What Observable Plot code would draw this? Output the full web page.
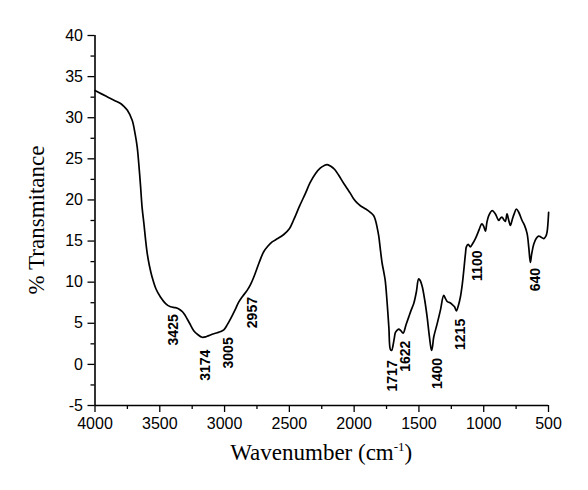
<!DOCTYPE html>
<html>
<head>
<meta charset="utf-8">
<script src="https://cdn.jsdelivr.net/npm/d3@7"></script>
<script src="https://cdn.jsdelivr.net/npm/@observablehq/plot@0.6"></script>
<style>
  html, body { margin: 0; padding: 0; background: #fff; }
</style>
</head>
<body>
<div id="chart"></div>
<script>
// Spectrum (wavenumber cm^-1, % transmittance)
const wavenumber = [4000,3950,3900,3850,3800,3778,3750,3713,3690,3674,3660,3649,3636,3623,3610,3597,3580,3559,3530,3495,3455,3417,3380,3353,3325,3302,3270,3238,3205,3173,3145,3122,3090,3057,3030,3006,2980,2955,2920,2890,2860,2826,2800,2775,2735,2698,2665,2633,2590,2543,2500,2466,2420,2376,2340,2299,2260,2230,2208,2180,2150,2119,2080,2050,2029,2003,1975,1952,1910,1875,1850,1835,1823,1810,1797,1784,1772,1760,1745,1732,1720,1710,1700,1690,1681,1665,1656,1640,1622,1600,1579,1560,1540,1520,1502,1490,1475,1455,1437,1420,1403,1395,1386,1360,1334,1309,1295,1278,1260,1244,1225,1211,1195,1180,1165,1154,1140,1134,1120,1103,1085,1064,1040,1020,1013,1000,987,975,961,935,910,895,884,870,858,845,833,820,808,794,780,765,748,730,704,685,665,652,640,630,614,595,576,560,537,520,511,505,499];
const transmittance = [33.3,32.9,32.5,32.1,31.7,31.4,30.9,29.7,28.0,26.4,24.0,21.8,19.0,17.2,15.2,13.5,12.0,10.6,9.2,8.2,7.4,7.0,6.9,6.75,6.4,5.9,5.0,4.1,3.6,3.3,3.35,3.5,3.7,3.85,4.0,4.2,4.8,5.5,6.6,7.6,8.3,9.0,9.7,10.6,12.3,13.7,14.4,14.9,15.3,15.8,16.5,17.6,19.3,20.8,22.1,23.2,23.9,24.2,24.3,24.1,23.7,23.0,22.0,21.3,20.8,20.1,19.6,19.3,18.9,18.5,18.1,17.5,16.7,15.6,13.9,12.3,11.3,10.2,7.4,4.5,1.8,1.7,2.3,3.2,3.9,4.2,4.3,4.1,3.8,4.8,5.75,6.6,7.4,8.8,10.4,10.2,9.5,7.8,5.8,3.5,1.7,2.2,3.3,4.9,6.6,8.4,8.0,7.6,7.5,7.3,7.0,6.5,7.2,8.2,9.8,11.4,13.6,14.3,14.6,14.3,14.7,15.3,16.2,17.0,17.1,16.8,16.2,17.3,18.1,18.7,18.3,17.8,17.5,17.8,17.9,17.6,17.4,18.3,17.6,16.9,17.6,18.3,18.9,18.5,17.5,16.9,15.9,14.2,12.4,13.4,14.6,15.3,15.6,15.5,15.3,15.6,16.1,17.0,18.5];

// Peak annotations: label text and where it sits (wavenumber, % T)
const peakLabels = ["3425","3174","3005","2957","1717","1622","1400","1215","1100","640"];
const peakLabelX = [3392,3147,2970,2787,1707,1604,1360,1180,1051,601];
const peakLabelY = [4.2,-0.1,1.4,6.3,-1.4,1.0,-1.1,3.65,12.0,10.3];

// Axis ticks
const xTicks = [4000,3500,3000,2500,2000,1500,1000,500];
const xMinorTicks = [3750,3250,2750,2250,1750,1250,750];
const yTicks = [-5,0,5,10,15,20,25,30,35,40];
const yMinorTicks = [-2.5,2.5,7.5,12.5,17.5,22.5,27.5,32.5,37.5];

const xTitle = ["Wavenumber (cm", "-1", ")"];
const yTitle = "% Transmitance";

const spectrum = wavenumber.map((w, i) => ({w, t: transmittance[i]}));
const peaks = peakLabels.map((p, i) => ({label: p, x: peakLabelX[i], y: peakLabelY[i]}));

const plot = Plot.plot({
  width: 588,
  height: 490,
  marginLeft: 94.5,
  marginRight: 40,
  marginTop: 35,
  marginBottom: 85,
  style: {fontFamily: "'Liberation Sans', Arial, sans-serif", fontSize: "16px", color: "#000", background: "#fff"},
  x: {domain: [4000, 500]},
  y: {domain: [-5, 40]},
  marks: [
    Plot.axisX({ticks: xTicks, tickSize: 7, tickPadding: 5, strokeWidth: 1.3, tickFormat: d => String(d), label: null, fontSize: 16}),
    Plot.axisX({ticks: xMinorTicks, tickSize: 4, strokeWidth: 1.3, tickFormat: () => "", label: null}),
    Plot.axisY({ticks: yTicks, tickSize: 7, tickPadding: 5, strokeWidth: 1.3, tickFormat: d => String(d), label: null, fontSize: 16}),
    Plot.axisY({ticks: yMinorTicks, tickSize: 4, strokeWidth: 1.3, tickFormat: () => "", label: null}),
    Plot.ruleY([-5], {strokeWidth: 1.6}),
    Plot.ruleX([4000], {strokeWidth: 1.6}),
    Plot.line(spectrum, {x: "w", y: "t", stroke: "#000", strokeWidth: 1.7, curve: "catmull-rom"}),
    Plot.text(peaks, {x: "x", y: "y", text: "label", rotate: -90, fontWeight: "bold", fontSize: 14, fill: "#000"})
  ]
});

const svg = d3.select(plot);
const xs = plot.scale("x").range;
const ys = plot.scale("y").range;
const xMid = (xs[0] + xs[1]) / 2;
const yMid = (ys[0] + ys[1]) / 2;

const xt = svg.append("text")
  .attr("x", xMid).attr("y", 460)
  .attr("text-anchor", "middle")
  .style("font-family", "'Liberation Serif', 'Times New Roman', serif")
  .style("font-size", "23px")
  .attr("fill", "#000");
xt.append("tspan").text(xTitle[0]);
xt.append("tspan").attr("dy", -9).style("font-size", "13px").text(xTitle[1]);
xt.append("tspan").attr("dy", 9).text(xTitle[2]);

svg.append("text")
  .attr("transform", `translate(36,${yMid}) rotate(-90)`)
  .attr("text-anchor", "middle")
  .attr("dy", "0.35em")
  .style("font-family", "'Liberation Serif', 'Times New Roman', serif")
  .style("font-size", "23px")
  .attr("fill", "#000")
  .text(yTitle);

document.getElementById("chart").appendChild(plot);
</script>
</body>
</html>
